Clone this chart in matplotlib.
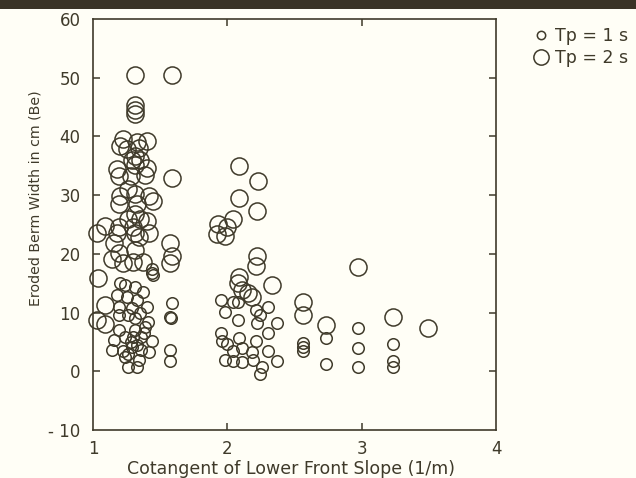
import matplotlib
matplotlib.use('Agg')
import matplotlib.pyplot as plt
from matplotlib.lines import Line2D
from matplotlib.patches import Rectangle

plt.rcParams['font.family'] = ['DejaVu Sans']

# Tp = 1 s (small circles)
tp1_x = [1.44, 1.44, 1.45, 1.20, 1.24, 1.31, 1.37, 1.18, 1.25, 1.33,
         1.19, 1.29, 1.19, 1.26, 1.31, 1.41, 1.19, 1.31, 1.39, 1.16,
         1.24, 1.30, 1.36, 1.44, 1.14, 1.22, 1.29, 1.36, 1.42, 1.24,
         1.26, 1.33, 1.35, 1.40, 1.28, 1.33, 1.38, 1.26, 1.34,
         1.59, 1.57, 1.58, 1.57, 1.57,
         1.95, 2.04, 2.08, 1.98, 2.21, 2.24, 2.30, 2.08, 2.22, 2.37,
         1.95, 1.96, 2.09, 2.21, 2.30, 2.00, 2.04, 2.11, 2.18, 2.30,
         1.98, 2.04, 2.11, 2.19, 2.26, 2.37, 2.24,
         2.56, 2.56, 2.56, 2.73, 2.73, 2.97, 2.97, 2.97, 3.23, 3.23, 3.23]
tp1_y = [17.5, 16.7, 16.4, 15.0, 14.7, 14.3, 13.5, 13.0, 12.7, 12.2,
         11.0, 10.8, 9.6, 9.6, 9.1, 8.4, 7.1, 7.1, 7.5, 5.4,
         5.9, 5.9, 5.8, 5.1, 3.7, 3.4, 4.1, 3.7, 3.2, 2.4,
         0.7, 0.7, 10.0, 11.0, 5.0, 4.5, 6.5, 3.0, 2.0,
         11.6, 9.3, 9.1, 3.7, 1.7,
         12.1, 11.8, 11.8, 10.1, 10.5, 9.6, 11.0, 8.8, 8.3, 8.3,
         6.6, 5.1, 5.7, 5.1, 6.6, 4.6, 3.4, 4.0, 3.2, 3.4,
         2.0, 1.7, 1.5, 2.0, 0.8, 1.7, -0.5,
         4.9, 4.2, 3.4, 5.7, 1.2, 7.4, 4.0, 0.8, 4.6, 1.7, 0.8]

# Tp = 2 s (large circles)
tp2_x = [1.31, 1.31, 1.31, 1.31, 1.22, 1.20, 1.33, 1.40, 1.25, 1.34,
         1.31, 1.29, 1.35, 1.31, 1.18, 1.19, 1.28, 1.40, 1.39,
         1.26, 1.20, 1.31, 1.42, 1.45, 1.19, 1.33, 1.31, 1.26, 1.35, 1.40,
         1.09, 1.03, 1.19, 1.18, 1.30, 1.31, 1.34, 1.42, 1.16, 1.19, 1.31,
         1.14, 1.22, 1.30, 1.37, 1.04, 1.09, 1.03, 1.09,
         1.59, 1.59, 1.57, 1.59, 1.57,
         2.09, 2.23, 2.09, 2.22, 2.04, 1.93, 2.00, 1.92, 1.98, 2.22, 2.21,
         2.09, 2.08, 2.11, 2.15, 2.18, 2.33,
         2.56, 2.56, 2.73, 2.97, 3.23, 3.49]
tp2_y = [50.5, 45.4, 44.5, 43.8, 39.5, 38.3, 39.1, 39.2, 37.8, 38.0,
         36.6, 36.0, 36.0, 35.2, 34.4, 33.2, 33.2, 34.6, 33.4,
         31.0, 29.8, 30.2, 29.8, 29.0, 28.5, 28.5, 26.8, 26.0, 26.0, 25.6,
         24.8, 23.6, 24.5, 23.6, 24.5, 23.6, 22.8, 23.6, 21.8, 20.2, 20.6,
         19.2, 18.5, 18.6, 18.6, 15.9, 11.3, 8.8, 8.0,
         50.4, 33.0, 21.8, 19.7, 18.4,
         34.9, 32.4, 29.5, 27.3, 26.0, 25.1, 24.5, 23.4, 23.1, 19.7, 18.0,
         16.0, 15.0, 13.8, 13.3, 12.7, 14.7,
         11.8, 9.6, 7.9, 17.8, 9.3, 7.4]

x_ticks = [1, 2, 3, 4]
y_ticks = [-10, 0, 10, 20, 30, 40, 50, 60]

ink = '#3f3a2a'
paper = '#fffef6'

fig = plt.figure(figsize=(6.36, 4.78), dpi=100, facecolor=paper)
ax = fig.add_axes([0.1462, 0.1004, 0.634, 0.8599], facecolor=paper)

# dark scan border at the top
fig.patches.append(Rectangle((0, 0.981), 1, 0.019, transform=fig.transFigure,
                             facecolor='#3a3326', edgecolor='none'))

ax.plot(tp1_x, tp1_y, 'o', ms=8.3, mfc='none', mec=ink, mew=1.1, clip_on=False)
ax.plot(tp2_x, tp2_y, 'o', ms=12.3, mfc='none', mec=ink, mew=1.1, clip_on=False)

ax.set_xlim(1, 4)
ax.set_ylim(-10, 60)
ax.set_xticks(x_ticks)
ax.set_yticks(y_ticks)
ax.set_xticklabels([str(v) for v in x_ticks])
ax.set_yticklabels([str(v).replace('-', '- ') if v < 0 else str(v) for v in y_ticks])

ax.tick_params(direction='in', length=5, width=1.1, color=ink, labelcolor=ink,
               labelsize=12, pad=9, top=True, right=True)
ax.tick_params(axis='x', pad=7)
# only the inner ticks show
for t in ax.xaxis.get_major_ticks():
    if t.get_loc() in (1, 4):
        t.tick1line.set_visible(False)
        t.tick2line.set_visible(False)
for t in ax.yaxis.get_major_ticks():
    if t.get_loc() in (-10, 60):
        t.tick1line.set_visible(False)
        t.tick2line.set_visible(False)

for s in ax.spines.values():
    s.set_color(ink)
    s.set_linewidth(1.2)

ax.set_xlabel('Cotangent of Lower Front Slope (1/m)', fontsize=12.5, color=ink)
ax.set_ylabel('Eroded Berm Width in cm (Be)', fontsize=10.2, color=ink)
ax.xaxis.set_label_coords(0.49, -0.074)
ax.yaxis.set_label_coords(-0.125, 0.565)

handles = [Line2D([], [], ls='none', marker='o', ms=6, mfc='none', mec=ink, mew=1.1),
           Line2D([], [], ls='none', marker='o', ms=11, mfc='none', mec=ink, mew=1.1)]
fig.legend(handles, ['Tp = 1 s', 'Tp = 2 s'], loc='upper left',
           bbox_to_anchor=(0.826, 0.958), frameon=False, fontsize=12.5,
           handletextpad=0.3, labelspacing=0.25, handlelength=1.0,
           borderaxespad=0, labelcolor=ink)

fig.savefig('out.png', dpi=100, facecolor=paper)
